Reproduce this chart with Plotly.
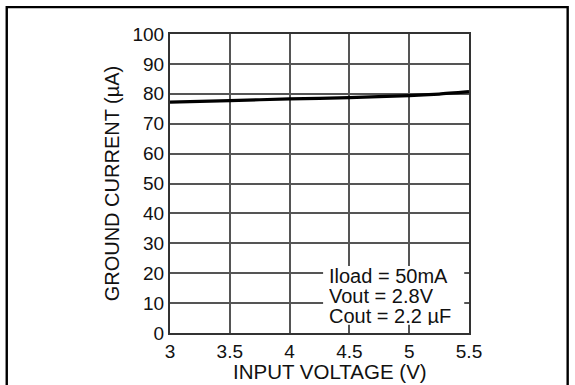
import plotly.graph_objects as go

# Ground current vs. input voltage
input_voltage = [3.0, 3.5, 4.0, 4.5, 5.0, 5.25, 5.5]
ground_current = [77.2, 77.7, 78.3, 78.7, 79.4, 79.9, 80.7]

x_ticks = [3, 3.5, 4, 4.5, 5, 5.5]
x_tick_text = ["3", "3.5", "4", "4.5", "5", "5.5"]
y_ticks = [0, 10, 20, 30, 40, 50, 60, 70, 80, 90, 100]

conditions = ["Iload = 50mA", "Vout = 2.8V", "Cout = 2.2 µF"]
condition_y = [19.2, 12.5, 5.8]

FONT = "Liberation Sans, Arial, sans-serif"
INK = "#111111"
GRID = "#555555"

fig = go.Figure()
fig.add_trace(go.Scatter(
    x=input_voltage, y=ground_current, mode="lines",
    line=dict(color="#000000", width=3.2, shape="spline", smoothing=0.6),
    hoverinfo="skip", showlegend=False,
))

# white panel behind the test conditions
fig.add_shape(type="rect", xref="x", yref="y", x0=4.28, x1=5.46, y0=2.8, y1=22.4,
              fillcolor="white", line=dict(width=0), layer="between")
for line_text, ypos in zip(conditions, condition_y):
    fig.add_annotation(
        x=4.32, y=ypos, xref="x", yref="y", xanchor="left", yanchor="middle",
        text=line_text, showarrow=False, align="left", valign="middle",
        height=18, borderpad=0,
        font=dict(family=FONT, size=20, color=INK),
    )

# x-axis title
fig.add_annotation(
    x=0.535, y=-0.128, xref="paper", yref="paper", xanchor="center", yanchor="middle",
    text="INPUT VOLTAGE (V)", showarrow=False,
    font=dict(family=FONT, size=20.5, color=INK),
)

# outer frame of the figure
fig.add_shape(type="rect", xref="paper", yref="paper",
              x0=-0.546, x1=1.330, y0=-0.5, y1=1.090,
              line=dict(color="#000000", width=2.4), fillcolor="rgba(0,0,0,0)")

axis_common = dict(
    showline=True, mirror=True, linecolor="#333333", linewidth=2.2,
    showgrid=True, gridcolor=GRID, gridwidth=1.6,
    zeroline=False, ticks="", ticklen=0,
    tickfont=dict(family=FONT, size=19, color=INK),
)

fig.update_xaxes(
    range=[3, 5.5], tickvals=x_ticks, ticktext=x_tick_text,
    **axis_common,
)
fig.update_yaxes(
    range=[0, 100], tickvals=y_ticks,
    title=dict(text="GROUND CURRENT (µA)", font=dict(family=FONT, size=20, color=INK), standoff=7),
    **axis_common,
)

fig.update_layout(
    width=575, height=385, autosize=False,
    margin=dict(l=170, r=106, t=34, b=52, pad=0),
    paper_bgcolor="white", plot_bgcolor="white",
)

fig.write_html("out.html")
